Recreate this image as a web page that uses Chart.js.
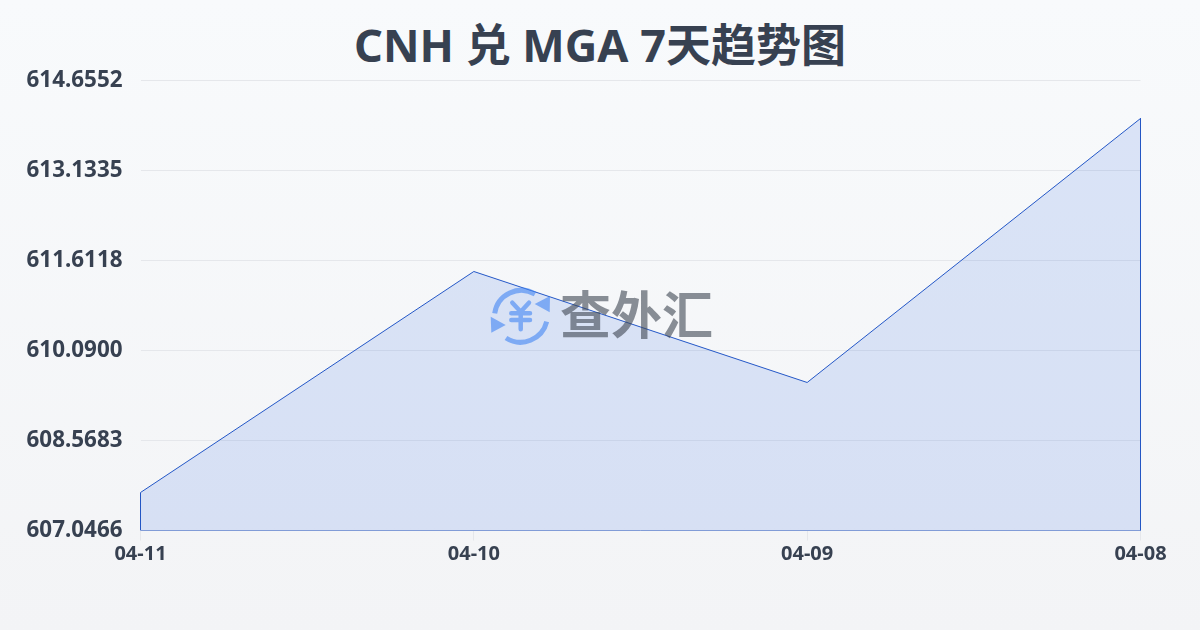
<!DOCTYPE html>
<html lang="zh">
<head>
<meta charset="utf-8">
<title>CNH 兑 MGA 7天趋势图</title>
<script src="https://cdn.jsdelivr.net/npm/chart.js@4/dist/chart.umd.min.js"></script>
<style>
    html, body { margin: 0; padding: 0; }
    body { width: 1200px; height: 630px; overflow: hidden; background: linear-gradient(180deg, #f8fafc 0%, #f3f4f6 100%); }
    #wrap { position: relative; width: 1200px; height: 630px; }
    #chart { position: absolute; left: 0; top: 0; }
    #title { position: absolute; left: 0; top: 0; width: 1200px; text-align: center; font: 700 45px/90px "Noto Sans", "Noto Sans CJK SC", sans-serif; color: #374151; }
    .mark-icon { position: absolute; left: 488px; top: 284px; opacity: 0.6; }
    .mark-text { position: absolute; left: 560px; top: 276px; font: 700 51px/72px "Noto Sans CJK SC", sans-serif; color: #3f4652; opacity: 0.6; white-space: nowrap; }
</style>
</head>
<body>
<div id="wrap">
    <div id="title"></div>
    <canvas id="chart" width="1200" height="630"></canvas>
    <svg class="mark-icon" width="64" height="64" viewBox="0 0 64 64" fill="none" stroke="#4285f4" stroke-width="5">
        <path d="M6.7 29.3 A27 27 0 0 1 47 10 M58.7 37.7 A27 27 0 0 1 18 54"/>
        <path d="M62 12 L61.7 28.3 L46.7 20 Z M2.7 32.7 L3.3 48.7 L17.7 41 Z" fill="#4285f4" stroke="none"/>
        <path d="M24.3 18.7 L32.7 27.7 L41 18.7 M23.3 29.3 H42 M23.3 36 H42 M32.7 27.7 V45.3" stroke-width="4.5" stroke-linecap="round" stroke-linejoin="round"/>
    </svg>
    <div class="mark-text">查外汇</div>
</div>
<script>
const titleText = 'CNH 兑 MGA 7天趋势图'
const categories = ['04-11', '04-10', '04-09', '04-08']
const rates = [607.689, 611.426, 609.549, 614.013]
const yTicks = [607.0466, 608.5683, 610.09, 611.6118, 613.1335, 614.6552]

const TEXT = '#374151'
const yMin = yTicks[0]
const yMax = yTicks[yTicks.length - 1]

document.getElementById('title').textContent = titleText

// outline runs down both sides and along the bottom of the area
const last = categories.length - 1
const outline = [
    { x: categories[0], y: yMin },
    ...categories.map((c, i) => ({ x: c, y: rates[i] })),
    { x: categories[last], y: yMin },
    { x: categories[0], y: yMin }
]

new Chart(document.getElementById('chart'), {
    type: 'line',
    data: {
        labels: categories,
        datasets: [
            {
                data: rates,
                borderWidth: 0,
                backgroundColor: 'rgba(30,90,225,0.135)',
                fill: 'start',
                pointRadius: 0,
                tension: 0
            },
            {
                data: outline,
                borderColor: '#2457c5',
                borderWidth: 1,
                fill: false,
                pointRadius: 0,
                tension: 0
            }
        ]
    },
    options: {
        responsive: false,
        animation: false,
        layout: { padding: { top: 80.5, right: 59.5 } },
        plugins: {
            legend: { display: false },
            tooltip: { enabled: false }
        },
        scales: {
            x: {
                afterFit: axis => { axis.height = 99.5 },
                border: { display: false },
                grid: { drawOnChartArea: false, color: '#e5e7eb', tickLength: 10 },
                ticks: {
                    color: TEXT,
                    font: { family: '"Noto Sans", sans-serif', size: 20, weight: 'bold' },
                    padding: 2,
                    maxRotation: 0
                }
            },
            y: {
                min: yMin,
                max: yMax,
                afterFit: axis => { axis.width = 140.5 },
                afterBuildTicks: axis => { axis.ticks = yTicks.map(v => ({ value: v })) },
                border: { display: false },
                grid: { color: '#e5e7eb', drawTicks: false },
                ticks: {
                    color: TEXT,
                    font: { family: '"Noto Sans", sans-serif', size: 22.4, weight: 'bold' },
                    padding: 18,
                    callback: v => v.toFixed(4)
                }
            }
        }
    }
})
</script>
</body>
</html>
